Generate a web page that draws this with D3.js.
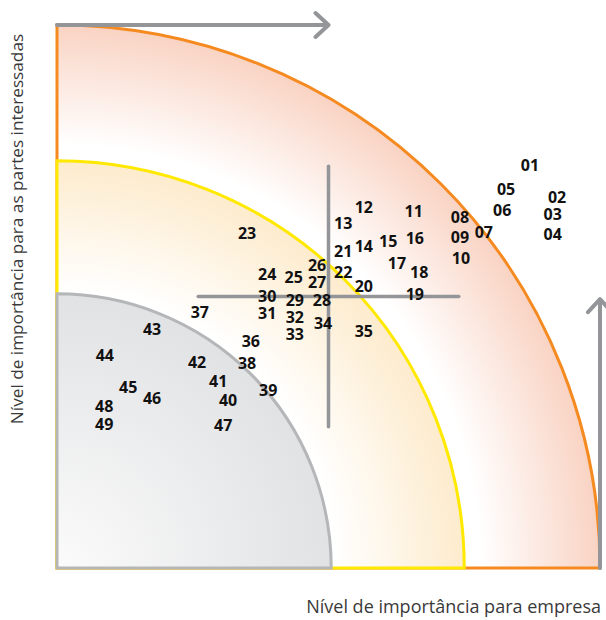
<!DOCTYPE html>
<html>
<head>
<meta charset="utf-8">
<script src="https://cdn.jsdelivr.net/npm/d3@7"></script>
<style>
  body { margin: 0; background: #fff; }
  svg { display: block; }
</style>
</head>
<body>
<svg id="chart" width="606" height="620"></svg>
<script>
// temas (numeracao) e posicao na matriz, escala 0-100
var temas = ["01","02","03","04","05","06","07","08","09","10",
             "11","12","13","14","15","16","17","18","19","20",
             "21","22","23","24","25","26","27","28","29","30",
             "31","32","33","34","35","36","37","38","39","40",
             "41","42","43","44","45","46","47","48","49"];
// importancia para empresa (eixo x)
var impEmpresa = [87.1, 92.1, 91.3, 91.3, 82.7, 82.0, 78.6, 74.2, 74.2, 74.4,
                  65.7, 56.5, 52.7, 56.5, 61.0, 65.9, 62.6, 66.7, 65.9, 56.5,
                  52.7, 52.7, 35.0, 38.7, 43.6, 47.9, 47.9, 48.8, 43.8, 38.7,
                  38.7, 43.8, 43.8, 49.0, 56.5, 35.7, 26.3, 35.0, 38.9, 31.5,
                  29.7, 25.8, 17.5, 8.8, 13.1, 17.5, 30.6, 8.7, 8.7];
// importancia para as partes interessadas (eixo y)
var impPartes = [74.2, 68.3, 65.2, 61.5, 69.8, 65.9, 61.9, 64.6, 61.0, 57.1,
                 65.7, 66.5, 63.5, 59.3, 60.2, 60.8, 56.2, 54.5, 50.5, 51.9,
                 58.4, 54.5, 61.7, 54.1, 53.6, 55.8, 52.7, 49.4, 49.4, 50.1,
                 47.0, 46.2, 43.1, 45.1, 43.6, 41.8, 47.1, 37.8, 32.8, 30.9,
                 34.4, 37.9, 44.0, 39.2, 33.3, 31.3, 26.2, 29.8, 26.5];

// faixas de relevancia (raio na escala 0-100)
var faixas = ["alta", "media", "baixa"];
var faixaRaio = [100, 75, 50.5];

var svg = d3.select("#chart");

var x = d3.scaleLinear().domain([0, 100]).range([57, 600]),
    y = d3.scaleLinear().domain([0, 100]).range([568, 25]);

var ox = x(0), oy = y(0);
function px(r) { return x(r) - x(0); }

var estilo = {
  alta:  {stroke: "#f58a20", stops: [[0, "#fff"], [0.78, "#fff"], [1, "#f9d3c3"]]},
  media: {stroke: "#ffe900", stops: [[0, "#fff"], [0.68, "#fff"], [1, "#fdebcc"]]},
  baixa: {stroke: "#b5b6b8", stops: [[0, "#fbfbfb"], [1, "#e1e2e4"]]}
};

var defs = svg.append("defs");
faixas.forEach(function(f, i) {
  var g = defs.append("radialGradient")
      .attr("id", "grad-" + f)
      .attr("gradientUnits", "userSpaceOnUse")
      .attr("cx", ox).attr("cy", oy).attr("r", px(faixaRaio[i]));
  g.selectAll("stop")
    .data(estilo[f].stops)
    .enter().append("stop")
      .attr("offset", function(d) { return d[0]; })
      .attr("stop-color", function(d) { return d[1]; });
});

function setor(r) {
  var R = px(r), p = d3.path();
  p.moveTo(ox, oy);
  p.lineTo(ox, oy - R);
  p.arc(ox, oy, R, -Math.PI / 2, 0);
  p.closePath();
  return p.toString();
}

svg.selectAll(".faixa")
  .data(faixas)
  .enter().append("path")
    .attr("class", "faixa")
    .attr("d", function(d, i) { return setor(faixaRaio[i]); })
    .attr("fill", function(d) { return "url(#grad-" + d + ")"; })
    .attr("stroke", function(d) { return estilo[d].stroke; })
    .attr("stroke-width", 3);

var cinza = "#939598";

// cruz central
svg.append("line")
    .attr("x1", x(26)).attr("x2", x(74)).attr("y1", y(50)).attr("y2", y(50))
    .attr("stroke", cinza).attr("stroke-width", 3.5).attr("stroke-linecap", "round");
svg.append("line")
    .attr("x1", x(50)).attr("x2", x(50)).attr("y1", y(26)).attr("y2", y(74))
    .attr("stroke", cinza).attr("stroke-width", 3.5).attr("stroke-linecap", "round");

// setas dos eixos
svg.append("path")
    .attr("d", "M" + x(0) + "," + y(100) + "H" + x(50)
      + "M" + (x(50) - 13) + "," + (y(100) - 12) + "L" + x(50) + "," + y(100) + "L" + (x(50) - 13) + "," + (y(100) + 12))
    .attr("fill", "none").attr("stroke", cinza).attr("stroke-width", 4)
    .attr("stroke-linecap", "round").attr("stroke-linejoin", "round");
svg.append("path")
    .attr("d", "M" + x(100) + "," + y(0) + "V" + y(49.5)
      + "M" + (x(100) - 12) + "," + (y(49.5) + 13) + "L" + x(100) + "," + y(49.5) + "L" + (x(100) + 12) + "," + (y(49.5) + 13))
    .attr("fill", "none").attr("stroke", cinza).attr("stroke-width", 4)
    .attr("stroke-linecap", "round").attr("stroke-linejoin", "round");

// numeros dos temas
svg.selectAll(".tema")
  .data(temas)
  .enter().append("text")
    .attr("class", "tema")
    .attr("x", function(d, i) { return x(impEmpresa[i]); })
    .attr("y", function(d, i) { return y(impPartes[i]); })
    .attr("dy", "0.36em")
    .attr("text-anchor", "middle")
    .style("font", "bold 16px 'Open Sans', sans-serif")
    .attr("fill", "#111")
    .text(function(d) { return d; });

// titulos dos eixos
svg.append("text")
    .attr("x", 601).attr("y", 613)
    .attr("text-anchor", "end")
    .style("font", "18px 'Open Sans', sans-serif")
    .attr("fill", "#3a3a3a")
    .text("Nível de importância para empresa");

svg.append("text")
    .attr("transform", "translate(23,229) rotate(-90)")
    .attr("text-anchor", "middle")
    .style("font", "17.2px 'Open Sans', sans-serif")
    .attr("fill", "#3a3a3a")
    .text("Nível de importância para as partes interessadas");
</script>
</body>
</html>
